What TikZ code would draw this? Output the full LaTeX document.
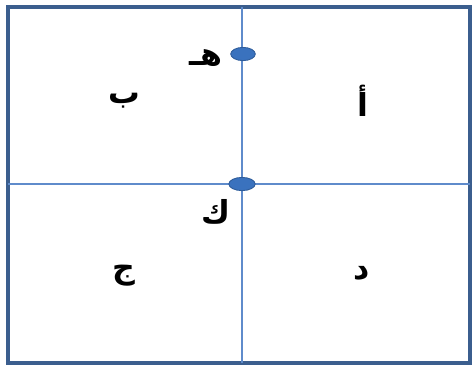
\documentclass[tikz,border=0pt]{standalone}
\usepackage{fontspec}
\newfontfamily\arabicfont[Script=Arabic]{DejaVu Sans}
\TeXXeTstate=1
\usetikzlibrary{shapes.geometric}
\definecolor{frameblue}{HTML}{3B5E8E}
\definecolor{lineblue}{HTML}{5F8BCB}
\definecolor{dotblue}{HTML}{3A72BE}
\definecolor{dotedge}{HTML}{2E5C9A}
\tikzset{
  frame line/.style={
    draw=frameblue,
    line width=2.2pt
  },
  axis line/.style={
    draw=lineblue,
    line width=0.9pt
  },
  point dot/.style={
    ellipse,
    fill=dotblue,
    draw=dotedge,
    line width=0.5pt,
    inner sep=0pt,
    minimum width=14pt,
    minimum height=7.5pt
  },
  letter label/.style={
    font=\arabicfont\bfseries\fontsize{18}{18}\selectfont,
    inner sep=0pt
  }
}

\begin{document}
\begin{tikzpicture}[x=0.02cm, y=-0.02cm]
    % 1. bounding box and outer frame
    \useasboundingbox (0,0) rectangle (472,366);
    \draw[frame line] (8,7) rectangle (470,363);

    % 2. the two dividing lines
    \coordinate (Top) at (242,7);
    \coordinate (Bottom) at (242,363);
    \coordinate (Left) at (8,184);
    \coordinate (Right) at (470,184);
    \draw[axis line] (Top) -- (Bottom);
    \draw[axis line] (Left) -- (Right);

    % 3. the marked points
    \node[point dot] (H) at (243,54) {};
    \node[point dot, minimum width=15pt] (K) at (242,184) {};

    % 4. letters
    \node[letter label] (labelH) at (206,58) {\beginR هـ\endR};
    \node[letter label] (labelK) at (216,212) {\beginR ك\endR};
    \node[letter label] (labelA) at (363,101) {\beginR أ\endR};
    \node[letter label] (labelB) at (124,101) {\beginR ب\endR};
    \node[letter label] (labelJ) at (124,276) {\beginR ج\endR};
    \node[letter label] (labelD) at (362,273) {\beginR د\endR};
\end{tikzpicture}
\end{document}
